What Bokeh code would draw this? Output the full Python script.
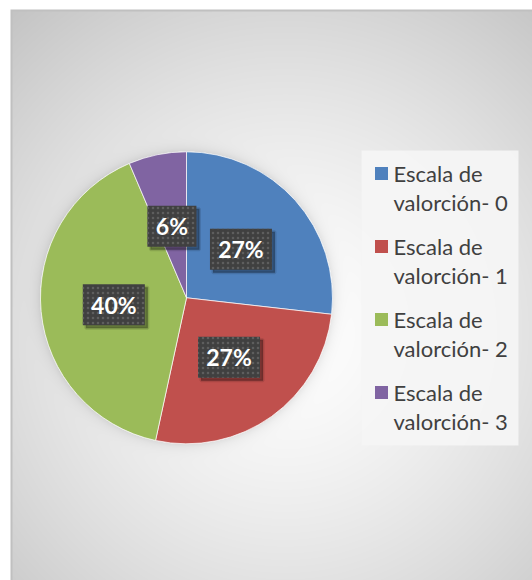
import numpy as np
from bokeh.plotting import figure
from bokeh.models import Range1d, ColumnDataSource
from bokeh.core.properties import value
from bokeh.embed import file_html
from bokeh.resources import INLINE

# ---- data ----
categories = ["Escala de valorción- 0", "Escala de valorción- 1",
              "Escala de valorción- 2", "Escala de valorción- 3"]
legend_line1 = ["Escala de", "Escala de", "Escala de", "Escala de"]
legend_line2 = ["valorción- 0", "valorción- 1", "valorción- 2", "valorción- 3"]
shares = [26.8, 26.6, 40.2, 6.4]
colors = ["#4F81BD", "#C0504D", "#9BBB59", "#8064A2"]

W, H = 532, 580


def X(ix):
    return ix


def Y(iy):
    return H - iy


p = figure(width=W, height=H, x_range=Range1d(0, W), y_range=Range1d(0, H),
           output_backend="svg", toolbar_location=None, min_border=0,
           x_axis_location=None, y_axis_location=None)
p.grid.visible = False
p.outline_line_color = None
p.background_fill_color = "white"
p.border_fill_color = "white"

# ---- background gradient (chart area) ----
cx_i, cy_i, R = 186.0, 297.3, 146.0
xs = np.arange(W) + 0.5
ys = np.arange(H) + 0.5
IX, IY = np.meshgrid(xs, H - ys)
t = np.sqrt(((IX - 285) / 430.0) ** 2 + ((IY - 330) / 440.0) ** 2)
g = 255 - 62 * np.clip(t, 0, 1.2) ** 1.4
d = np.hypot(IX - cx_i, IY - cy_i)
g = g - 22 * np.exp(-np.clip(d - R, 0, None) / 5.0) * (d > R)
outside = (IX < 10) | (IY < 9)
border = (((IX >= 10) & (IX < 12)) | ((IY >= 9) & (IY < 11))) & ~outside
g[border] = 192
g[outside] = 255
g = np.clip(g, 0, 255).astype(np.uint8)
img = np.empty((H, W), dtype=np.uint32)
view = img.view(dtype=np.uint8).reshape((H, W, 4))
view[..., 0] = g
view[..., 1] = g
view[..., 2] = g
view[..., 3] = 255
p.image_rgba(image=[img], x=0, y=0, dw=W, dh=H)

# ---- pie ----
cx, cy = X(cx_i), Y(cy_i)
total = float(sum(shares))
fr = np.array(shares) / total
cum = np.concatenate([[0.0], np.cumsum(fr)])
start = np.pi / 2 - 2 * np.pi * cum[:-1]
end = np.pi / 2 - 2 * np.pi * cum[1:]
src = ColumnDataSource(dict(cat=categories, start=start, end=end, color=colors))
p.wedge(x=cx, y=cy, radius=R, start_angle="start", end_angle="end",
        direction="clock", fill_color="color", line_color="white",
        line_alpha=0.7, line_width=1, source=src)

# ---- data labels ----
mid = (start + end) / 2
lx = cx + 0.5 * R * np.cos(mid)
ly = cy + 0.5 * R * np.sin(mid)
ltext = [f"{int(100 * f + 0.5)}%" for f in fr]
bw = [13 * len(s) + 23 for s in ltext]
lsrc = ColumnDataSource(dict(x=lx, y=ly, sx=lx + 3, sy=ly - 3, w=bw, text=ltext))
p.rect(x="sx", y="sy", width="w", height=41, fill_color="black",
       fill_alpha=0.18, line_color=None, source=lsrc)
p.rect(x="sx", y="sy", width="w", height=41, fill_color="black",
       fill_alpha=0.2, line_color="black", line_alpha=0.12, line_width=3, source=lsrc)
p.rect(x="x", y="y", width="w", height=41, fill_color="#404040",
       hatch_pattern=".", hatch_color="#5e5e5e", hatch_scale=5,
       line_color=None, source=lsrc)
p.text(x="x", y="y", text="text", text_color="white",
       text_font=value("Lato"), text_font_style="bold", text_font_size="23px",
       text_align="center", text_baseline="middle", source=lsrc)

# ---- legend ----
p.rect(x=X(439.5), y=Y(297.5), width=157, height=295,
       fill_color="#f5f5f5", fill_alpha=0.92, line_color=None)
n = len(categories)
ey = np.array([Y(173 + 73 * i) for i in range(n)])
legsrc = ColumnDataSource(dict(sx=[X(381)] * n, sy=ey, tx=[X(393)] * n,
                               l1=legend_line1, l2=legend_line2,
                               y2=ey - 29, color=colors))
p.rect(x="sx", y="sy", width=13, height=13, fill_color="color",
       line_color=None, source=legsrc)
p.text(x="tx", y="sy", text="l1", text_color="#404040", text_font=value("Lato"),
       text_font_size="22px", text_baseline="middle", source=legsrc)
p.text(x="tx", y="y2", text="l2", text_color="#404040", text_font=value("Lato"),
       text_font_size="22px", text_baseline="middle", source=legsrc)

open("out.html", "w").write(file_html(p, INLINE))
